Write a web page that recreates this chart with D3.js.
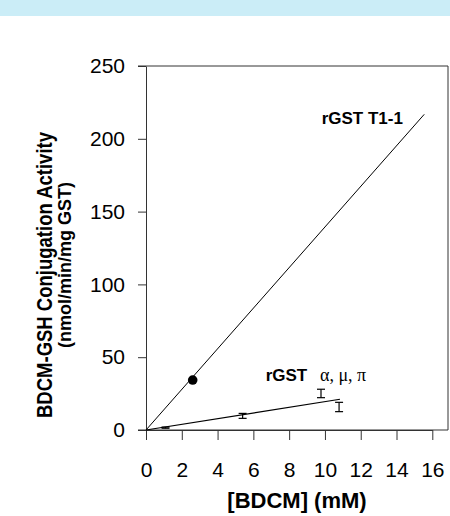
<!DOCTYPE html>
<html>
<head>
<meta charset="utf-8">
<script src="https://cdn.jsdelivr.net/npm/d3@7"></script>
<style>
  body { margin: 0; background: #fff; }
  svg { display: block; font-family: Arial, "Liberation Sans", sans-serif; }
</style>
</head>
<body>
<script>
var width = 450, height = 516;

// values
var xTicks = [0, 2, 4, 6, 8, 10, 12, 14, 16];
var yTicks = [0, 50, 100, 150, 200, 250];

// rGST T1-1
var t1Points = [{x: 2.61, y: 34.3}];
var t1Fit = [{x: 0, y: 0}, {x: 15.55, y: 216.8}];

// rGST alpha, mu, pi (mean and error)
var otherX = [1.09, 5.4, 9.78, 10.79];
var otherY = [1.6, 9.7, 25.1, 15.8];
var otherErr = [0.4, 1.7, 2.9, 3.2];
var otherFit = [{x: 0, y: 0}, {x: 10.84, y: 21.1}];

var svg = d3.select("body").append("svg")
    .attr("width", width)
    .attr("height", height);

// top band
svg.append("rect")
    .attr("x", 0).attr("y", 0)
    .attr("width", width).attr("height", 16)
    .attr("fill", "#cbedf7");

var x = d3.scaleLinear().domain([0, 16]).range([146, 432.3]);
var y = d3.scaleLinear().domain([0, 250]).range([430, 66]);

// frame
svg.append("path")
    .attr("d", "M138,66H448V430")
    .attr("fill", "none")
    .attr("stroke", "#333");

var yAxis = svg.append("g")
    .attr("transform", "translate(146,0)")
    .call(d3.axisLeft(y).tickValues(yTicks).tickSize(8).tickSizeOuter(0).tickPadding(13));

var xAxis = svg.append("g")
    .attr("transform", "translate(0,430)")
    .call(d3.axisBottom(x).tickValues(xTicks).tickSize(10).tickSizeOuter(0).tickPadding(22));

[yAxis, xAxis].forEach(function(g) {
    g.attr("font-family", null).attr("font-size", null);
    g.selectAll("text")
        .style("font-family", "Arial, 'Liberation Sans', sans-serif")
        .style("font-size", "21px")
        .attr("fill", "#000");
    g.selectAll("path, line").attr("stroke", "#333");
});

svg.append("line")
    .attr("x1", 138).attr("x2", 448)
    .attr("y1", 430).attr("y2", 430)
    .attr("stroke", "#333");

var line = d3.line()
    .x(function(d) { return x(d.x); })
    .y(function(d) { return y(d.y); });

svg.append("path").datum(t1Fit)
    .attr("d", line)
    .attr("fill", "none")
    .attr("stroke", "#000")
    .attr("stroke-width", 1);

svg.append("path").datum(otherFit)
    .attr("d", line)
    .attr("fill", "none")
    .attr("stroke", "#000")
    .attr("stroke-width", 1.2);

svg.selectAll(".pt").data(t1Points).enter()
    .append("circle")
    .attr("cx", function(d) { return x(d.x); })
    .attr("cy", function(d) { return y(d.y); })
    .attr("r", 4.8)
    .attr("fill", "#000");

var bars = otherX.map(function(v, i) {
    return {x: v, y: otherY[i], e: otherErr[i]};
});

var eb = svg.selectAll(".eb").data(bars).enter().append("g")
    .attr("stroke", "#000")
    .attr("stroke-width", 1.2);
eb.append("line")
    .attr("x1", function(d) { return x(d.x); })
    .attr("x2", function(d) { return x(d.x); })
    .attr("y1", function(d) { return y(d.y - d.e); })
    .attr("y2", function(d) { return y(d.y + d.e); });
[-1, 1].forEach(function(s) {
    eb.append("line")
        .attr("x1", function(d) { return x(d.x) - 4; })
        .attr("x2", function(d) { return x(d.x) + 4; })
        .attr("y1", function(d) { return y(d.y + s * d.e); })
        .attr("y2", function(d) { return y(d.y + s * d.e); });
});

// labels
svg.append("text")
    .attr("x", 321.7).attr("y", 124)
    .attr("font-size", 17).attr("font-weight", "bold")
    .text("rGST T1-1");

svg.append("text")
    .attr("x", 265.7).attr("y", 381)
    .attr("font-size", 17).attr("font-weight", "bold")
    .text("rGST");
svg.append("text")
    .attr("x", 320).attr("y", 381)
    .attr("font-family", "'Liberation Serif', 'Times New Roman', serif")
    .attr("font-size", 18)
    .text("\u03b1, \u03bc, \u03c0");

svg.append("text")
    .attr("x", 297).attr("y", 508)
    .attr("text-anchor", "middle")
    .attr("font-size", 22).attr("font-weight", "bold")
    .text("[BDCM] (mM)");

svg.append("text")
    .attr("transform", "translate(51.5,275) rotate(-90)")
    .attr("text-anchor", "middle")
    .attr("font-size", 22).attr("font-weight", "bold")
    .attr("textLength", 286).attr("lengthAdjust", "spacingAndGlyphs")
    .text("BDCM-GSH Conjugation Activity");

svg.append("text")
    .attr("transform", "translate(71,265) rotate(-90)")
    .attr("text-anchor", "middle")
    .attr("font-size", 18).attr("font-weight", "bold")
    .attr("textLength", 166).attr("lengthAdjust", "spacingAndGlyphs")
    .text("(nmol/min/mg GST)");
</script>
</body>
</html>
